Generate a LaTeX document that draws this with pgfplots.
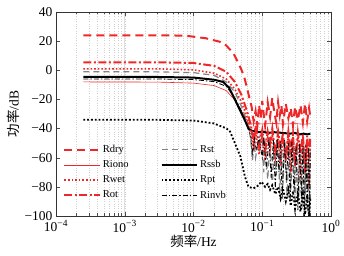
\documentclass[border=0pt]{standalone}
\usepackage{fontspec}
\setmainfont{Liberation Serif}
\newfontfamily\cjk{Noto Sans CJK SC}
\usepackage{pgfplots}
\pgfplotsset{compat=1.18}
\definecolor{myred}{RGB}{238,40,40}
\definecolor{mygray}{RGB}{130,130,130}
\begin{document}
\begin{tikzpicture}
\begin{axis}[
  scale only axis, width=275pt, height=204pt,
  xmode=log, xmin=1e-4, xmax=1, ymin=-100, ymax=40,
  xtick={1e-4,1e-3,1e-2,1e-1,1},
  xticklabels={10\textsuperscript{−4},10\textsuperscript{−3},10\textsuperscript{−2},10\textsuperscript{−1},10\textsuperscript{0}},
  ytick={-100,-80,-60,-40,-20,0,20,40},
  yticklabels={−100,−80,−60,−40,−20,0,20,40},
  tick label style={font=\fontsize{13.5}{13.5}\selectfont},
  xticklabel style={yshift=-1pt},
  tick align=inside,
  major tick length=4pt, minor tick length=2.5pt,
  axis line style={line width=0.9pt, black!80},
  every tick/.style={black!70},
  xmajorgrids, xminorgrids,
  major grid style={black!12, line width=0.5pt},
  minor grid style={black!18, dotted, line width=0.4pt},
  xlabel={{\cjk 频率}/Hz}, ylabel={{\cjk 功率}/dB},
  label style={font=\fontsize{13.5}{13.5}\selectfont},
  xlabel style={yshift=4pt},
  ylabel style={yshift=-2pt},
  legend columns=2,
  legend cell align=left,
  legend style={at={(0.015,0.06)}, anchor=south west, draw=none, fill=none,
    font=\fontsize{10.5}{11}\selectfont, row sep=2.5pt,
    /tikz/every even column/.append style={column sep=30pt}},
  legend image code/.code={\draw[#1] (0cm,0cm) -- (1.25cm,0cm);},
]
% Rdry
\addplot[myred, dashed, dash pattern=on 8pt off 5pt, line width=2pt] coordinates {
(2.5e-4,24) (1e-3,24) (3e-3,24) (7.5e-3,23.8) (0.015,22) (0.024,19.6) (0.03,17)
(0.038,11.7) (0.045,5) (0.05,0.2) (0.055,-5) (0.06,-12) (0.065,-19) (0.07,-25)
(0.075,-35) (0.08,-28) (0.085,-38) (0.09,-24) (0.095,-33) (0.1,-21) (0.105,-30)
(0.11,-38) (0.12,-22) (0.13,-32) (0.14,-19) (0.15,-29) (0.16,-36) (0.17,-22)
(0.18,-31) (0.19,-24) (0.2,-37) (0.22,-23) (0.24,-33) (0.26,-26) (0.28,-38)
(0.3,-25) (0.33,-34) (0.36,-24) (0.39,-36) (0.42,-23) (0.45,-35) (0.48,-26) (0.5,-32)};
\addlegendentry{Rdry}
% Rst
\addplot[mygray, dashed, dash pattern=on 6pt off 4pt, line width=1.2pt] coordinates {
(2.5e-4,-1) (1e-3,-1) (3e-3,-1.1) (0.01,-1.6) (0.02,-3.5) (0.03,-8) (0.04,-15)
(0.05,-25) (0.06,-35) (0.065,-42) (0.068,-48) (0.072,-62) (0.076,-50) (0.08,-60)
(0.085,-52) (0.09,-56) (0.095,-48) (0.1,-45) (0.105,-70) (0.11,-47) (0.12,-75)
(0.13,-48) (0.14,-80) (0.15,-49) (0.16,-72) (0.17,-48) (0.18,-85) (0.19,-50)
(0.2,-78) (0.215,-49) (0.23,-88) (0.245,-51) (0.26,-82) (0.28,-50) (0.3,-92)
(0.32,-52) (0.34,-86) (0.36,-50) (0.38,-95) (0.4,-52) (0.42,-90) (0.44,-51)
(0.46,-98) (0.48,-53) (0.5,-92)};
\addlegendentry{Rst}
% Riono
\addplot[myred, line width=0.6pt] coordinates {
(2.5e-4,-8) (3e-3,-8.1) (0.01,-8.8) (0.02,-10.5) (0.03,-14) (0.04,-20.5)
(0.05,-28) (0.06,-34.5) (0.065,-37) (0.08,-36.6) (0.1,-36.8) (0.15,-36.5)
(0.2,-36.9) (0.3,-36.6) (0.4,-37) (0.5,-36.7)};
\addlegendentry{Riono}
% Rssb
\addplot[black, line width=2pt] coordinates {
(2.5e-4,-4.5) (3e-3,-4.6) (0.01,-5) (0.02,-6.5) (0.027,-8) (0.033,-12) (0.04,-20)
(0.047,-27) (0.053,-32) (0.058,-36) (0.063,-40) (0.07,-41.5) (0.08,-42)
(0.09,-42.5) (0.1,-42) (0.12,-43) (0.15,-42.5) (0.2,-43) (0.25,-43.5) (0.3,-43)
(0.35,-44) (0.4,-43.5) (0.45,-44) (0.5,-43.5)};
\addlegendentry{Rssb}
% Rwet
\addplot[myred, dotted, line width=1.6pt] coordinates {
(2.5e-4,1) (3e-3,1) (0.01,0.3) (0.02,-2) (0.03,-6) (0.04,-13) (0.05,-22)
(0.06,-32) (0.065,-38) (0.07,-44) (0.075,-55) (0.08,-42) (0.09,-58) (0.1,-45)
(0.11,-62) (0.12,-46) (0.13,-55) (0.14,-44) (0.155,-60) (0.17,-45) (0.185,-66)
(0.2,-47) (0.22,-58) (0.24,-45) (0.26,-70) (0.28,-48) (0.3,-60) (0.33,-46)
(0.36,-75) (0.39,-47) (0.42,-62) (0.45,-48) (0.48,-80) (0.5,-50)};
\addlegendentry{Rwet}
% Rpt
\addplot[black, dotted, line width=1.8pt] coordinates {
(2.5e-4,-34) (3e-3,-34) (0.01,-34.5) (0.0195,-36.4) (0.03,-39.8) (0.034,-42)
(0.04,-50) (0.048,-59) (0.056,-73) (0.063,-80) (0.074,-81) (0.083,-80)
(0.098,-76.5) (0.11,-80) (0.12,-78) (0.13,-82) (0.14,-79) (0.155,-85) (0.17,-80)
(0.185,-88) (0.2,-81) (0.22,-90) (0.24,-82) (0.26,-93) (0.28,-83) (0.3,-95)
(0.33,-84) (0.36,-97) (0.39,-85) (0.42,-99) (0.45,-86) (0.48,-100) (0.5,-88)};
\addlegendentry{Rpt}
% Rot
\addplot[myred, dash pattern=on 8pt off 2.5pt on 2pt off 2.5pt, line width=2pt] coordinates {
(2.5e-4,5.5) (3e-3,5.5) (0.01,5) (0.02,3) (0.03,-1) (0.04,-8) (0.05,-17)
(0.06,-28) (0.065,-34) (0.07,-40) (0.075,-50) (0.08,-38) (0.09,-52) (0.1,-41)
(0.11,-56) (0.12,-42) (0.13,-50) (0.14,-40) (0.155,-58) (0.17,-42) (0.185,-54)
(0.2,-43) (0.22,-62) (0.24,-42) (0.26,-55) (0.28,-44) (0.3,-66) (0.33,-43)
(0.36,-57) (0.39,-44) (0.42,-70) (0.45,-45) (0.48,-60) (0.5,-46)};
\addlegendentry{Rot}
% Rinvb
\addplot[black, dash pattern=on 5pt off 2pt on 1.5pt off 2pt, line width=0.8pt] coordinates {
(2.5e-4,-6) (3e-3,-6) (0.01,-6.4) (0.02,-7.8) (0.03,-11) (0.04,-19) (0.05,-28)
(0.06,-37) (0.065,-42) (0.068,-45) (0.072,-58) (0.077,-47) (0.082,-55) (0.09,-46)
(0.1,-60) (0.105,-46) (0.115,-68) (0.125,-47) (0.135,-74) (0.145,-48) (0.155,-82)
(0.165,-47) (0.175,-70) (0.185,-49) (0.195,-88) (0.21,-48) (0.225,-76) (0.24,-50)
(0.255,-90) (0.27,-49) (0.29,-84) (0.31,-51) (0.33,-96) (0.35,-50) (0.37,-88)
(0.39,-52) (0.41,-100) (0.43,-51) (0.45,-94) (0.47,-53) (0.49,-100) (0.5,-55)};
\addlegendentry{Rinvb}
\end{axis}
\pgfresetboundingbox
\path ([xshift=-56pt,yshift=-40pt]current axis.south west) rectangle ([xshift=13pt,yshift=12pt]current axis.north east);
\end{tikzpicture}
\end{document}
